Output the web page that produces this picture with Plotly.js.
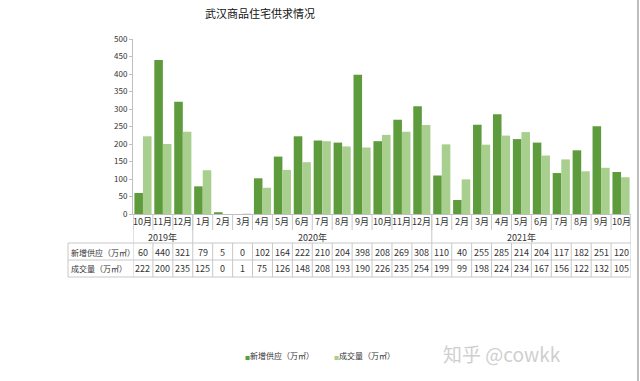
<!DOCTYPE html>
<html><head><meta charset="utf-8">
<script src="https://cdn.plot.ly/plotly-3.0.1.min.js"></script>
<style>html,body{margin:0;padding:0;background:#fff}#c{width:640px;height:381px}</style>
</head><body><div id="c"></div>
<script>
const months = ["10月","11月","12月","1月","2月","3月","4月","5月","6月","7月","8月","9月","10月","11月","12月","1月","2月","3月","4月","5月","6月","7月","8月","9月","10月"];
const years = ["2019年","2020年","2021年"];
const yearStart = [0,3,15];
const supply = [60,440,321,79,5,0,102,164,222,210,204,398,208,269,308,110,40,255,285,214,204,117,182,251,120];
const deal = [222,200,235,125,0,1,75,126,148,208,193,190,226,235,254,199,99,198,224,234,167,156,122,132,105];
const seriesNames = ["新增供应（万㎡）","成交量（万㎡）"];
const colors = ["#5e9b3c","#a9cf8f"];

const idx = months.map((m,i)=>i);
const font = "Noto Sans CJK SC, Liberation Sans, sans-serif";
const lineCol = "#c8c8c8";
// pixel -> paper coords (plot area x 133..631, y 39..214)
const py = p => (214 - p) / 175;
const px = p => (p - 133) / 498;

const traces = [
  {type:"bar", x:idx, y:supply, name:seriesNames[0], marker:{color:colors[0]}},
  {type:"bar", x:idx, y:deal, name:seriesNames[1], marker:{color:colors[1]}}
];

const ann = [];
const shapes = [];
const tf = {size:9,color:"#333"};
months.forEach((m,i)=>{
  ann.push({x:i, y:py(221), xref:"x", yref:"paper", text:m, showarrow:false, font:tf, yanchor:"middle"});
  ann.push({x:i, y:py(252), xref:"x", yref:"paper", text:String(supply[i]), showarrow:false, font:tf, yanchor:"middle"});
  ann.push({x:i, y:py(268), xref:"x", yref:"paper", text:String(deal[i]), showarrow:false, font:tf, yanchor:"middle"});
});
for (let i=0;i<=months.length;i++){
  shapes.push({type:"line", xref:"x", yref:"paper", x0:i-0.5, x1:i-0.5, y0:py(214), y1:py(230), line:{color:lineCol,width:1}});
  shapes.push({type:"line", xref:"x", yref:"paper", x0:i-0.5, x1:i-0.5, y0:py(243), y1:py(277), line:{color:lineCol,width:1}});
}
const yearCenters = [1, 8.5, 19];
years.forEach((y,k)=>{
  ann.push({x:yearCenters[k], y:py(237), xref:"x", yref:"paper", text:y, showarrow:false, font:tf, yanchor:"middle"});
  shapes.push({type:"line", xref:"x", yref:"paper", x0:yearStart[k]-0.5, x1:yearStart[k]-0.5, y0:py(214), y1:py(243), line:{color:lineCol,width:1}});
});
shapes.push({type:"line", xref:"x", yref:"paper", x0:24.5, x1:24.5, y0:py(214), y1:py(243), line:{color:lineCol,width:1}});
[243,260,277].forEach(p=>{
  shapes.push({type:"line", xref:"paper", yref:"paper", x0:px(68), x1:1, y0:py(p), y1:py(p), line:{color:lineCol,width:1}});
});
shapes.push({type:"line", xref:"paper", yref:"paper", x0:px(68), x1:px(68), y0:py(243), y1:py(277), line:{color:lineCol,width:1}});
// row labels
ann.push({x:px(69), y:py(252), xref:"paper", yref:"paper", text:seriesNames[0], showarrow:false, xanchor:"left", font:{size:8,color:"#333"}, yanchor:"middle"});
ann.push({x:px(69), y:py(268), xref:"paper", yref:"paper", text:seriesNames[1], showarrow:false, xanchor:"left", font:{size:8,color:"#333"}, yanchor:"middle"});
// legend
ann.push({x:px(243), y:py(355), xref:"paper", yref:"paper", text:"<span style='color:"+colors[0]+";font-size:5px'>■</span>"+seriesNames[0], showarrow:false, xanchor:"left", font:{size:8,color:"#333"}, yanchor:"middle"});
ann.push({x:px(332), y:py(355), xref:"paper", yref:"paper", text:"<span style='color:"+colors[1]+";font-size:5px'>■</span>"+seriesNames[1], showarrow:false, xanchor:"left", font:{size:8,color:"#333"}, yanchor:"middle"});
// watermark
ann.push({x:px(563), y:py(353), xref:"paper", yref:"paper", text:"知乎 @cowkk", showarrow:false, font:{size:19,color:"#cfcfcf"}, yanchor:"middle"});
// outer frame line at right edge
shapes.push({type:"line", xref:"paper", yref:"paper", x0:px(638), x1:px(638), y0:py(0), y1:py(381), line:{color:"#a8a8a8",width:1.5}});

const layout = {
  width:640, height:381,
  margin:{l:133, r:9, t:39, b:167},
  paper_bgcolor:"#fff", plot_bgcolor:"#fff",
  font:{family:font, size:9, color:"#333"},
  title:{text:"武汉商品住宅供求情况", x:260/640, xref:"container", xanchor:"center", y:1-14/381, yref:"container", yanchor:"middle", font:{size:11,color:"#111"}},
  showlegend:false,
  barmode:"group", bargap:0.14, bargroupgap:0,
  xaxis:{range:[-0.5,24.5], showticklabels:false, showline:true, linecolor:"#bfbfbf", ticks:"", showgrid:false, zeroline:false, fixedrange:true},
  yaxis:{range:[0,500], tickvals:[0,50,100,150,200,250,300,350,400,450,500], showline:true, linecolor:"#bfbfbf", ticks:"outside", ticklen:3, tickcolor:"#bfbfbf", showgrid:false, zeroline:false, tickfont:{size:8,color:"#333"}, fixedrange:true},
  shapes:shapes,
  annotations:ann
};
Plotly.newPlot("c", traces, layout, {displayModeBar:false, staticPlot:true});
</script></body></html>
